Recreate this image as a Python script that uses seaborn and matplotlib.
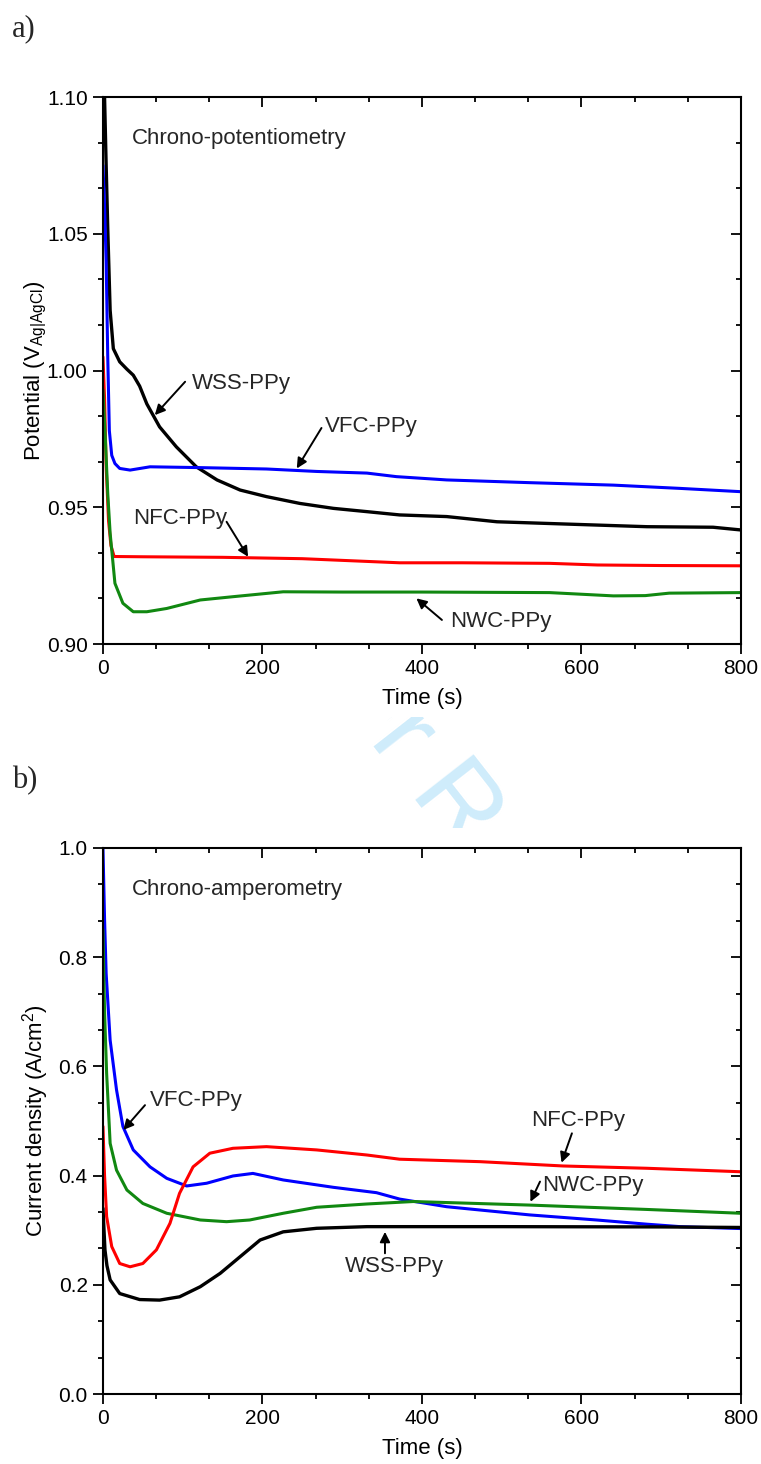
import matplotlib
matplotlib.use('Agg')
import matplotlib.pyplot as plt
from matplotlib.patches import Polygon, Rectangle
from matplotlib.ticker import MultipleLocator, FormatStrFormatter
import seaborn as sns

# =========================
# Data - panel a (chrono-potentiometry)
# =========================
a_wss_t = [0, 2, 4, 6, 9, 13, 21, 30, 38, 46, 55, 71, 92, 117, 143, 172, 205, 247, 289, 331, 372, 431, 494, 577, 682, 765, 800]
a_wss_v = [1.12, 1.10, 1.075, 1.052, 1.022, 1.008, 1.0032, 1.0005, 0.9983, 0.9943, 0.9878, 0.9794, 0.9721, 0.9648, 0.9600,
           0.9563, 0.9539, 0.9514, 0.9496, 0.9484, 0.9472, 0.9466, 0.9447, 0.9439, 0.9429, 0.9427, 0.9417]

a_vfc_t = [0, 2, 4, 6, 8, 11, 15, 21, 34, 59, 122, 205, 268, 331, 368, 431, 535, 640, 724, 800]
a_vfc_v = [1.075, 1.06, 1.04, 1.005, 0.978, 0.969, 0.966, 0.9642, 0.9636, 0.9648, 0.9645, 0.9640, 0.9631, 0.9625, 0.9612,
           0.9600, 0.9590, 0.9581, 0.9569, 0.9557]

a_nfc_t = [0, 2, 4, 7, 10, 14, 50, 150, 250, 372, 450, 560, 620, 700, 800]
a_nfc_v = [1.005, 0.99, 0.965, 0.945, 0.936, 0.932, 0.9319, 0.9317, 0.9312, 0.9297, 0.9297, 0.9295, 0.9289, 0.9287, 0.9286]

a_nwc_t = [0, 3, 6, 9, 15, 25, 38, 55, 80, 122, 163, 205, 226, 300, 400, 560, 600, 640, 680, 710, 800]
a_nwc_v = [0.993, 0.975, 0.955, 0.9405, 0.9222, 0.9149, 0.9118, 0.9118, 0.9130, 0.9161, 0.9173, 0.9185, 0.9191, 0.9190,
           0.9190, 0.9188, 0.9182, 0.9176, 0.9177, 0.9186, 0.9188]

# =========================
# Data - panel b (chrono-amperometry)
# =========================
b_wss_t = [0, 2.5, 5, 9, 21, 46, 71, 96, 122, 147, 172, 197, 226, 268, 331, 500, 700, 800]
b_wss_i = [0.34, 0.264, 0.235, 0.209, 0.184, 0.173, 0.172, 0.178, 0.1965, 0.221, 0.2515, 0.282, 0.297, 0.3035, 0.3065,
           0.3065, 0.306, 0.305]

b_nfc_t = [0, 2, 4.6, 11, 21, 34, 50, 67, 84, 96, 113, 134, 163, 205, 268, 331, 372, 473, 577, 682, 800]
b_nfc_i = [0.49, 0.40, 0.325, 0.27, 0.239, 0.233, 0.239, 0.264, 0.3125, 0.3675, 0.416, 0.441, 0.450, 0.453, 0.447,
           0.4377, 0.430, 0.4255, 0.4176, 0.4134, 0.407]

b_vfc_t = [0, 2, 4, 9, 17, 25, 38, 59, 80, 105, 130, 163, 188, 226, 289, 343, 372, 431, 535, 619, 682, 724, 800]
b_vfc_i = [1.0, 0.87, 0.77, 0.648, 0.557, 0.49, 0.447, 0.416, 0.395, 0.381, 0.386, 0.3993, 0.404, 0.392, 0.3785, 0.3687,
           0.357, 0.343, 0.328, 0.3187, 0.311, 0.3065, 0.303]

b_nwc_t = [0, 2, 4.6, 9, 17, 30, 50, 80, 122, 155, 184, 226, 268, 331, 389, 535, 682, 800]
b_nwc_i = [0.85, 0.70, 0.587, 0.459, 0.41, 0.3736, 0.349, 0.331, 0.3187, 0.3156, 0.3187, 0.331, 0.342, 0.348, 0.3525,
           0.346, 0.338, 0.331]

COL = {'WSS': 'black', 'VFC': '#0000ff', 'NFC': '#ff0000', 'NWC': '#118811'}

TICK_FS = 15
TEXT_FS = 16

# =========================
# Style
# =========================
sns.set_theme(style='ticks')
plt.rcParams['font.family'] = ['Liberation Sans', 'DejaVu Sans']
plt.rcParams['mathtext.fontset'] = 'custom'
plt.rcParams['mathtext.rm'] = 'Liberation Sans'
plt.rcParams['mathtext.it'] = 'Liberation Sans:italic'

W, H = 761, 1464
fig = plt.figure(figsize=(W / 100, H / 100), dpi=100)
fig.patch.set_facecolor('white')


def fpx(x, y):
    return (x / W, 1 - y / H)


# watermark, only the piece seen in the gap between the panels
wm = fig.text(0.1721, 0.7022, 'For Peer Review', rotation=-52, rotation_mode='anchor',
              ha='left', va='baseline', fontsize=78, color='#cfecfb', zorder=-2)
wm.set_clip_path(Rectangle(fpx(0, 828), 1, (828 - 717) / H, transform=fig.transFigure))
fig.add_artist(Polygon([fpx(0, 710), fpx(400, 710), fpx(259, 830), fpx(0, 830)], closed=True,
                       transform=fig.transFigure, facecolor='white', edgecolor='none', zorder=-1))

ax_a = fig.add_axes([0.1353, 0.5601, 0.8384, 0.3736])
ax_b = fig.add_axes([0.1353, 0.0478, 0.8384, 0.3730])


def style_axes(ax, ylim, ymaj, fmt):
    ax.set_facecolor('white')
    ax.set_xlim(0, 800)
    ax.set_ylim(*ylim)
    for s in ax.spines.values():
        s.set_visible(True)
        s.set_linewidth(1.5)
        s.set_color('black')
    ax.xaxis.set_major_locator(MultipleLocator(200))
    ax.xaxis.set_minor_locator(MultipleLocator(200 / 3))
    ax.yaxis.set_major_locator(MultipleLocator(ymaj))
    ax.yaxis.set_minor_locator(MultipleLocator(ymaj / 3))
    ax.yaxis.set_major_formatter(FormatStrFormatter(fmt))
    ax.tick_params(which='both', direction='out', width=1.3, color='black', labelsize=TICK_FS, labelcolor='black')
    ax.tick_params(which='major', length=7)
    ax.tick_params(which='minor', length=3.6)
    ax.tick_params(axis='x', which='major', pad=4)
    ax.tick_params(axis='y', which='major', pad=4)
    # inward ticks on top and right
    top = ax.secondary_xaxis('top')
    top.xaxis.set_major_locator(MultipleLocator(200))
    top.xaxis.set_minor_locator(MultipleLocator(200 / 3))
    top.tick_params(which='both', direction='in', width=1.3, color='black', labeltop=False)
    top.tick_params(which='major', length=7)
    top.tick_params(which='minor', length=3.6)
    right = ax.secondary_yaxis('right')
    right.yaxis.set_major_locator(MultipleLocator(ymaj))
    right.yaxis.set_minor_locator(MultipleLocator(ymaj / 3))
    right.tick_params(which='both', direction='in', width=1.3, color='black', labelright=False)
    right.tick_params(which='major', length=7)
    right.tick_params(which='minor', length=3.6)
    ax.set_xlabel('Time (s)', fontsize=TEXT_FS, color='black')
    ax.xaxis.label.set_va('center')
    ax.xaxis.set_label_coords(0.5, -0.099)
    ax.yaxis.label.set_va('center')
    ax.yaxis.set_label_coords(-0.105, 0.5)


def arrow(ax, tail, head):
    ax.annotate('', xy=head, xytext=tail,
                arrowprops=dict(arrowstyle='-|>', color='black', lw=1.4, mutation_scale=15,
                                shrinkA=0, shrinkB=0))


# =========================
# Panel a
# =========================
sns.lineplot(x=a_wss_t, y=a_wss_v, color=COL['WSS'], linewidth=2.4, ax=ax_a)
sns.lineplot(x=a_vfc_t, y=a_vfc_v, color=COL['VFC'], linewidth=2.2, ax=ax_a)
sns.lineplot(x=a_nfc_t, y=a_nfc_v, color=COL['NFC'], linewidth=2.2, ax=ax_a)
sns.lineplot(x=a_nwc_t, y=a_nwc_v, color=COL['NWC'], linewidth=2.2, ax=ax_a)
ax_a.set_ylabel('Potential (V$_{\\mathrm{Ag|AgCl}}$)', fontsize=TEXT_FS, color='black')
style_axes(ax_a, (0.90, 1.10), 0.05, '%.2f')

ax_a.text(36, 1.085, 'Chrono-potentiometry', fontsize=TEXT_FS, va='center', ha='left')
ax_a.text(112, 0.9954, 'WSS-PPy', fontsize=TEXT_FS, va='center', ha='left')
arrow(ax_a, (103, 0.9959), (65, 0.9837))
ax_a.text(278, 0.9795, 'VFC-PPy', fontsize=TEXT_FS, va='center', ha='left')
arrow(ax_a, (274, 0.9790), (243, 0.9642))
ax_a.text(38, 0.946, 'NFC-PPy', fontsize=TEXT_FS, va='center', ha='left')
arrow(ax_a, (155, 0.9447), (182, 0.9319))
ax_a.text(435, 0.9082, 'NWC-PPy', fontsize=TEXT_FS, va='center', ha='left')
arrow(ax_a, (425, 0.9088), (393, 0.9167))

# =========================
# Panel b
# =========================
sns.lineplot(x=b_vfc_t, y=b_vfc_i, color=COL['VFC'], linewidth=2.2, ax=ax_b)
sns.lineplot(x=b_nwc_t, y=b_nwc_i, color=COL['NWC'], linewidth=2.2, ax=ax_b)
sns.lineplot(x=b_nfc_t, y=b_nfc_i, color=COL['NFC'], linewidth=2.2, ax=ax_b)
sns.lineplot(x=b_wss_t, y=b_wss_i, color=COL['WSS'], linewidth=2.4, ax=ax_b)
ax_b.set_ylabel('Current density (A/cm$^{2}$)', fontsize=TEXT_FS, color='black')
style_axes(ax_b, (0.0, 1.0), 0.2, '%.1f')

ax_b.text(36, 0.923, 'Chrono-amperometry', fontsize=TEXT_FS, va='center', ha='left')
ax_b.text(59, 0.5366, 'VFC-PPy', fontsize=TEXT_FS, va='center', ha='left')
arrow(ax_b, (52.7, 0.529), (25.5, 0.4835))
ax_b.text(537, 0.500, 'NFC-PPy', fontsize=TEXT_FS, va='center', ha='left')
arrow(ax_b, (588, 0.4774), (575, 0.4236))
ax_b.text(551, 0.381, 'NWC-PPy', fontsize=TEXT_FS, va='center', ha='left')
arrow(ax_b, (548, 0.389), (536, 0.352))
ax_b.text(303, 0.233, 'WSS-PPy', fontsize=TEXT_FS, va='center', ha='left')
arrow(ax_b, (353.6, 0.2577), (353.6, 0.297))

# panel letters
fig.text(12 / W, 1 - 36 / H, 'a)', fontsize=22, family=['Liberation Serif', 'DejaVu Serif'],
         va='baseline', ha='left', zorder=2)
fig.text(12 / W, 1 - 788 / H, 'b)', fontsize=22, family=['Liberation Serif', 'DejaVu Serif'],
         va='baseline', ha='left', zorder=2)

fig.savefig('out.png', dpi=100, facecolor='white')
